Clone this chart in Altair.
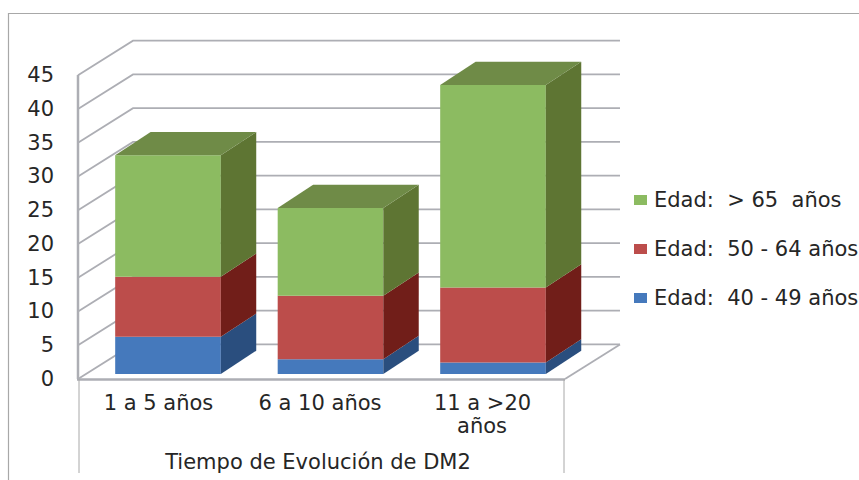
import altair as alt
import pandas as pd

# Stacked values per evolution-time group
groups = ["1 a 5 años", "6 a 10 años", "11 a >20"]
edad_40_49 = [5.5, 2.2, 1.7]
edad_50_64 = [8.9, 9.4, 11.1]
edad_65 = [18.0, 13.0, 30.0]
ticks = [0, 5, 10, 15, 20, 25, 30, 35, 40, 45]

series = [
    ("Edad:\u00a0 40 - 49 años", edad_40_49, "#4579bc", "#2a4e7e"),
    ("Edad:\u00a0 50 - 64 años", edad_50_64, "#bc4d4b", "#711e19"),
    ("Edad:\u00a0 > 65\u00a0 años", edad_65, "#8cbb61", "#5e7533"),
]
top_color = "#6f8b47"
grid_color = "#adaeb4"
frame_color = "#a8a8a8"
text_color = "#262626"
font = "DejaVu Sans"
font_size = 21

# Oblique projection parameters, in scale units
bar_half = 0.325
bar_dx = 0.218
bar_dy = 3.45
wall_left = -0.5538
wall_right = 2.443
wall_dx = 0.3385
wall_dy = 5.12
floor_level = -0.74

x_scale = alt.Scale(domain=[-1.03385, 4.2523], nice=False, zero=False)
y_scale = alt.Scale(domain=[-15.704, 55.407], nice=False, zero=False)
X = alt.X("x:Q", scale=x_scale, axis=None)
Y = alt.Y("y:Q", scale=y_scale, axis=None, stack=None)

# Back wall grid: each line runs from the front edge to the wall and across it
grid_rows = []
for t in ticks:
    v = t + floor_level
    grid_rows += [
        {"t": t, "x": wall_left, "y": v},
        {"t": t, "x": wall_left + wall_dx, "y": v + wall_dy},
        {"t": t, "x": wall_right + wall_dx, "y": v + wall_dy},
    ]
grid = alt.Chart(pd.DataFrame(grid_rows)).mark_line(
    color=grid_color, strokeWidth=1.8
).encode(x=X, y=Y, detail="t:N")

floor_edge = alt.Chart(pd.DataFrame([
    {"x": wall_right, "y": floor_level},
    {"x": wall_right + wall_dx, "y": floor_level + wall_dy},
])).mark_line(color=grid_color, strokeWidth=1.8).encode(x=X, y=Y)

# Faces of the stacked columns
front_rows, side_rows, top_rows = [], [], []
for i in range(len(groups)):
    base = 0.0
    for s, (_, values, front, side) in enumerate(series):
        top = base + values[i]
        x0, x1 = i - bar_half, i + bar_half
        front_rows.append({"x": x0, "x2": x1, "y": base, "y2": top, "c": front})
        key = f"{i}-{s}"
        side_rows += [
            {"k": key, "x": x1, "y": base, "y2": top, "c": side},
            {"k": key, "x": x1 + bar_dx, "y": base + bar_dy, "y2": top + bar_dy, "c": side},
        ]
        base = top
    top_rows += [
        {"k": i, "x": x0, "x2": x1, "y": base},
        {"k": i, "x": x0 + bar_dx, "x2": x1 + bar_dx, "y": base + bar_dy},
    ]

fronts = alt.Chart(pd.DataFrame(front_rows)).mark_rect().encode(
    x=X, x2="x2:Q", y=Y, y2="y2:Q", color=alt.Color("c:N", scale=None)
)
sides = alt.Chart(pd.DataFrame(side_rows)).mark_area().encode(
    x=X, y=Y, y2="y2:Q", detail="k:N", color=alt.Color("c:N", scale=None)
)
tops = alt.Chart(pd.DataFrame(top_rows)).mark_area(
    orient="horizontal", color=top_color
).encode(y=Y, x=X, x2="x2:Q", detail="k:N")

# Axis lines, multi-level category frame and outer chart border
def rule(x, y, x2=None, y2=None, color=grid_color, width=1.0):
    enc = {"x": alt.value(x), "y": alt.value(y)}
    if x2 is not None:
        enc["x2"] = alt.value(x2)
    if y2 is not None:
        enc["y2"] = alt.value(y2)
    return alt.Chart(pd.DataFrame({"a": [0]})).mark_rule(color=color, strokeWidth=width).encode(**enc)

lines = [
    rule(78, 75, y2=379, width=2.5),
    rule(77, 379.5, x2=565, width=2.5),
    rule(79, 379, y2=473, color=frame_color),
    rule(564, 379, y2=473, color=frame_color),
    rule(8, 13.5, x2=859, color=frame_color, width=1.2),
    rule(8.5, 13, y2=480, color=frame_color, width=1.2),
]

# Value labels
tick_labels = alt.Chart(pd.DataFrame({"y": ticks, "label": [str(t) for t in ticks]})).mark_text(
    align="right", baseline="middle", font=font, fontSize=font_size, color=text_color, dy=6
).encode(x=alt.value(54), y=alt.Y("y:Q", scale=y_scale, axis=None), text="label:N")

def label(text, x, y, align="center"):
    return alt.Chart(pd.DataFrame({"t": [text]})).mark_text(
        align=align, baseline="middle", font=font, fontSize=font_size, color=text_color
    ).encode(x=alt.value(x), y=alt.value(y), text="t:N")

texts = [
    label(groups[0], 158.5, 404),
    label(groups[1], 320, 404),
    label(groups[2], 482.5, 404),
    label("años", 482, 427),
    label("Tiempo de Evolución de DM2", 318, 463),
]

# Legend entries, top to bottom
legend = []
for (name, _, front, _), yc in zip(reversed(series), [200, 249, 298]):
    swatch = alt.Chart(pd.DataFrame({"a": [0]})).mark_rect(color=front).encode(
        x=alt.value(634), x2=alt.value(647), y=alt.value(yc - 5), y2=alt.value(yc + 5)
    )
    legend += [swatch, label(name, 654, yc + 1, align="left")]

chart = alt.layer(
    grid, floor_edge, *lines, fronts, sides, tops, tick_labels, *texts, *legend
).properties(
    width=859, height=480, padding=0, autosize=alt.AutoSizeParams(type="none"),
    background="white",
).configure_view(stroke=None)

chart.save("out.html", embed_options={"renderer": "svg", "actions": False})
